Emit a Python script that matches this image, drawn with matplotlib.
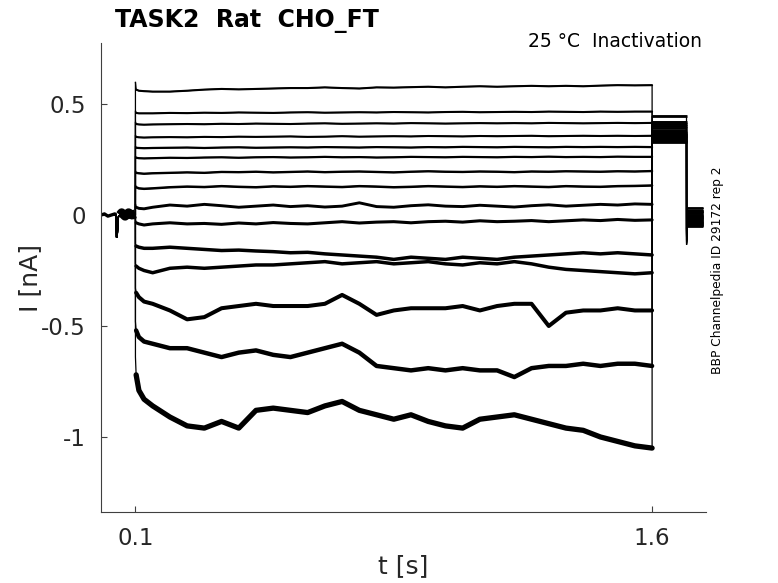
import numpy as np
import matplotlib
matplotlib.use("Agg")
import matplotlib.pyplot as plt

plt.rcParams['font.family'] = ['DejaVu Sans']

# ---------------- data ----------------
# holding period before the step (shared by all sweeps)
t_pre = [0.0, 0.01, 0.02, 0.03, 0.04, 0.044, 0.045, 0.047, 0.05, 0.055, 0.06, 0.07, 0.08, 0.09, 0.0999]
i_pre = [0.0, 0.005, -0.005, 0.0, 0.005, 0.0, -0.1, -0.1, -0.01, 0.0, 0.01, -0.005, 0.01, 0.0, 0.005]

# conditioning step 0.1 .. 1.6 s
t_step = [0.1, 0.102, 0.11, 0.125, 0.15, 0.2, 0.25, 0.3, 0.35, 0.4, 0.45, 0.5, 0.55, 0.6,
          0.65, 0.7, 0.75, 0.8, 0.85, 0.9, 0.95, 1.0, 1.05, 1.1, 1.15, 1.2, 1.25, 1.3,
          1.35, 1.4, 1.45, 1.5, 1.55, 1.6]

sweep_01 = [0.60, 0.565, 0.56, 0.558, 0.556, 0.556, 0.56, 0.565, 0.568, 0.566, 0.568, 0.57, 0.572, 0.572, 0.575, 0.572, 0.57, 0.575, 0.574, 0.576, 0.578, 0.575, 0.578, 0.58, 0.578, 0.58, 0.582, 0.58, 0.582, 0.58, 0.583, 0.585, 0.584, 0.585]
sweep_02 = [0.47, 0.46, 0.458, 0.458, 0.458, 0.46, 0.459, 0.461, 0.46, 0.462, 0.461, 0.46, 0.462, 0.463, 0.461, 0.462, 0.463, 0.462, 0.464, 0.463, 0.462, 0.464, 0.465, 0.463, 0.464, 0.465, 0.464, 0.466, 0.465, 0.464, 0.466, 0.465, 0.466, 0.466]
sweep_03 = [0.42, 0.41, 0.408, 0.407, 0.408, 0.409, 0.41, 0.409, 0.411, 0.41, 0.412, 0.411, 0.41, 0.412, 0.413, 0.411, 0.412, 0.413, 0.412, 0.414, 0.413, 0.412, 0.413, 0.414, 0.413, 0.414, 0.413, 0.415, 0.414, 0.413, 0.414, 0.415, 0.414, 0.415]
sweep_04 = [0.36, 0.352, 0.35, 0.349, 0.35, 0.351, 0.35, 0.352, 0.351, 0.353, 0.352, 0.353, 0.354, 0.352, 0.353, 0.355, 0.353, 0.354, 0.355, 0.354, 0.356, 0.355, 0.354, 0.356, 0.355, 0.356, 0.357, 0.355, 0.356, 0.357, 0.356, 0.357, 0.356, 0.357]
sweep_05 = [0.31, 0.303, 0.302, 0.301, 0.302, 0.303, 0.304, 0.302, 0.304, 0.305, 0.303, 0.304, 0.305, 0.304, 0.306, 0.305, 0.304, 0.306, 0.305, 0.304, 0.306, 0.305, 0.307, 0.306, 0.305, 0.307, 0.306, 0.305, 0.307, 0.306, 0.307, 0.306, 0.307, 0.306]
sweep_06 = [0.265, 0.258, 0.256, 0.255, 0.256, 0.258, 0.257, 0.259, 0.26, 0.258, 0.26, 0.261, 0.259, 0.26, 0.262, 0.26, 0.261, 0.259, 0.26, 0.262, 0.261, 0.26, 0.262, 0.261, 0.26, 0.262, 0.261, 0.263, 0.261, 0.262, 0.261, 0.263, 0.262, 0.262]
sweep_07 = [0.2, 0.19, 0.188, 0.186, 0.188, 0.19, 0.192, 0.19, 0.194, 0.193, 0.195, 0.192, 0.194, 0.196, 0.193, 0.195, 0.196, 0.194, 0.192, 0.195, 0.197, 0.195, 0.194, 0.196, 0.195, 0.193, 0.196, 0.195, 0.197, 0.196, 0.195, 0.197, 0.196, 0.198]
sweep_08 = [0.135, 0.125, 0.12, 0.118, 0.12, 0.125, 0.128, 0.126, 0.13, 0.127, 0.125, 0.129, 0.127, 0.13, 0.128, 0.126, 0.13, 0.128, 0.125, 0.127, 0.13, 0.128, 0.126, 0.129, 0.127, 0.13, 0.128, 0.126, 0.13, 0.128, 0.127, 0.13, 0.131, 0.133]
sweep_09 = [0.05, 0.035, 0.03, 0.028, 0.035, 0.045, 0.04, 0.048, 0.042, 0.035, 0.04, 0.045, 0.038, 0.042, 0.036, 0.04, 0.055, 0.038, 0.035, 0.042, 0.046, 0.04, 0.038, 0.044, 0.04, 0.036, 0.042, 0.046, 0.04, 0.044, 0.048, 0.045, 0.05, 0.048]
sweep_10 = [-0.02, -0.035, -0.04, -0.045, -0.04, -0.035, -0.04, -0.038, -0.042, -0.036, -0.04, -0.034, -0.038, -0.04, -0.035, -0.03, -0.036, -0.032, -0.03, -0.035, -0.03, -0.028, -0.032, -0.026, -0.03, -0.028, -0.025, -0.03, -0.026, -0.022, -0.025, -0.02, -0.024, -0.022]
sweep_11 = [-0.13, -0.14, -0.145, -0.15, -0.15, -0.145, -0.15, -0.155, -0.16, -0.158, -0.162, -0.165, -0.17, -0.168, -0.175, -0.18, -0.185, -0.19, -0.2, -0.19, -0.195, -0.2, -0.19, -0.195, -0.2, -0.19, -0.185, -0.18, -0.175, -0.17, -0.175, -0.17, -0.175, -0.18]
sweep_12 = [-0.22, -0.23, -0.24, -0.25, -0.26, -0.24, -0.235, -0.24, -0.235, -0.23, -0.225, -0.225, -0.22, -0.215, -0.21, -0.22, -0.215, -0.21, -0.22, -0.215, -0.21, -0.22, -0.225, -0.215, -0.22, -0.21, -0.22, -0.235, -0.245, -0.25, -0.255, -0.26, -0.265, -0.26]
sweep_13 = [-0.33, -0.35, -0.37, -0.39, -0.4, -0.43, -0.47, -0.46, -0.42, -0.41, -0.4, -0.41, -0.41, -0.41, -0.4, -0.36, -0.4, -0.45, -0.43, -0.42, -0.42, -0.42, -0.41, -0.43, -0.41, -0.4, -0.4, -0.5, -0.44, -0.43, -0.43, -0.42, -0.43, -0.43]
sweep_14 = [-0.48, -0.52, -0.55, -0.57, -0.58, -0.6, -0.6, -0.62, -0.64, -0.62, -0.61, -0.63, -0.64, -0.62, -0.6, -0.58, -0.62, -0.68, -0.69, -0.7, -0.69, -0.7, -0.69, -0.7, -0.7, -0.73, -0.69, -0.68, -0.68, -0.67, -0.68, -0.67, -0.67, -0.68]
sweep_15 = [-0.64, -0.72, -0.79, -0.83, -0.86, -0.91, -0.95, -0.96, -0.93, -0.96, -0.88, -0.87, -0.88, -0.89, -0.86, -0.84, -0.88, -0.9, -0.92, -0.9, -0.93, -0.95, -0.96, -0.92, -0.91, -0.9, -0.92, -0.94, -0.96, -0.97, -1.0, -1.02, -1.04, -1.05]

sweeps = [sweep_01, sweep_02, sweep_03, sweep_04, sweep_05, sweep_06, sweep_07, sweep_08,
          sweep_09, sweep_10, sweep_11, sweep_12, sweep_13, sweep_14, sweep_15]

# test pulse 1.6 .. 1.7 s
t_tail = [1.6001, 1.6999]
tail_levels = [0.33, 0.335, 0.34, 0.345, 0.35, 0.355, 0.36, 0.365, 0.37, 0.38, 0.39, 0.40, 0.41, 0.42, 0.445]

# return to holding 1.7 .. 1.75 s
t_end = [1.7001, 1.7025, 1.706, 1.748]
end_dips = [-0.135, -0.13, -0.125, -0.12, -0.115, -0.11, -0.10, -0.095, -0.09, -0.085, -0.08, -0.075, -0.07, -0.065, -0.06]
end_levels = [-0.05, -0.045, -0.04, -0.035, -0.03, -0.025, -0.02, -0.015, -0.01, -0.005, 0.0, 0.01, 0.015, 0.02, 0.03]

x_ticks = [0.1, 1.6]
x_ticklabels = ["0.1", "1.6"]
y_ticks = [-1, -0.5, 0, 0.5]
y_ticklabels = ["-1", "-0.5", "0", "0.5"]

# ---------------- style ----------------
thin_lw = 0.9
block_lw = 2.0
noise_widths = [1.5, 1.5, 1.5, 1.5, 1.6, 1.6, 1.7, 1.8, 2.1, 2.2, 2.5, 2.5, 2.9, 3.2, 3.8]
axis_col = '#404040'
text_col = '#262626'

fig = plt.figure(figsize=(7.78, 5.83), dpi=100)
ax = fig.add_axes([101 / 778, 71 / 583, 605 / 778, 469 / 583])

for k, sw in enumerate(sweeps):
    t_all = list(t_pre) + list(t_step) + list(t_tail) + list(t_end)
    i_all = (list(i_pre) + list(sw) + [tail_levels[k], tail_levels[k]]
             + [end_dips[k], end_levels[k], end_levels[k], end_levels[k]])
    ax.plot(t_all, i_all, color='black', lw=thin_lw, solid_joinstyle='miter')
    # noisy plateau drawn with a wider stroke
    ax.plot(t_step[1:], sw[1:], color='black', lw=noise_widths[k],
            solid_capstyle='round', solid_joinstyle='round')
    # test pulse and return to holding (dense overlapping noise)
    ax.plot(t_tail, [tail_levels[k], tail_levels[k]], color='black', lw=block_lw,
            solid_capstyle='butt')
    ax.plot(t_end[1:], [end_levels[k]] * 3, color='black', lw=block_lw,
            solid_capstyle='butt')

# noisy holding level just before the step
ax.plot(t_pre[9:], i_pre[9:], color='black', lw=6.5, solid_capstyle='butt')
ax.plot(t_pre[:6], i_pre[:6], color='black', lw=2.4, solid_capstyle='butt')

ax.set_xlim(0, 1.7565)
ax.set_ylim(-1.338, 0.775)
ax.set_xticks(x_ticks)
ax.set_xticklabels(x_ticklabels)
ax.set_yticks(y_ticks)
ax.set_yticklabels(y_ticklabels)

for s in ['top', 'right']:
    ax.spines[s].set_visible(False)
for s in ['left', 'bottom']:
    ax.spines[s].set_color(axis_col)
    ax.spines[s].set_linewidth(0.8)

ax.tick_params(axis='both', direction='in', length=4.5, width=0.8, color=axis_col,
               labelsize=16.5, labelcolor=text_col)
ax.tick_params(axis='y', pad=11)
ax.tick_params(axis='x', pad=11)

ax.set_xlabel('t [s]', fontsize=18, color=text_col, labelpad=3)
ax.set_ylabel('I [nA]', fontsize=18, color=text_col, labelpad=-1)

fig.text(115 / 778, 1 - 27 / 583, 'TASK2  Rat  CHO_FT', fontsize=17, fontweight='bold',
         ha='left', va='baseline', color='black')
fig.text(702 / 778, 1 - 47 / 583, '25 \u00b0C  Inactivation', fontsize=13.5,
         ha='right', va='baseline', color='black')
fig.text(717 / 778, 1 - 270 / 583, 'BBP Channelpedia ID 29172 rep 2', fontsize=8.8,
         rotation=90, ha='center', va='center', color='black')

fig.savefig('out.png', dpi=100)
